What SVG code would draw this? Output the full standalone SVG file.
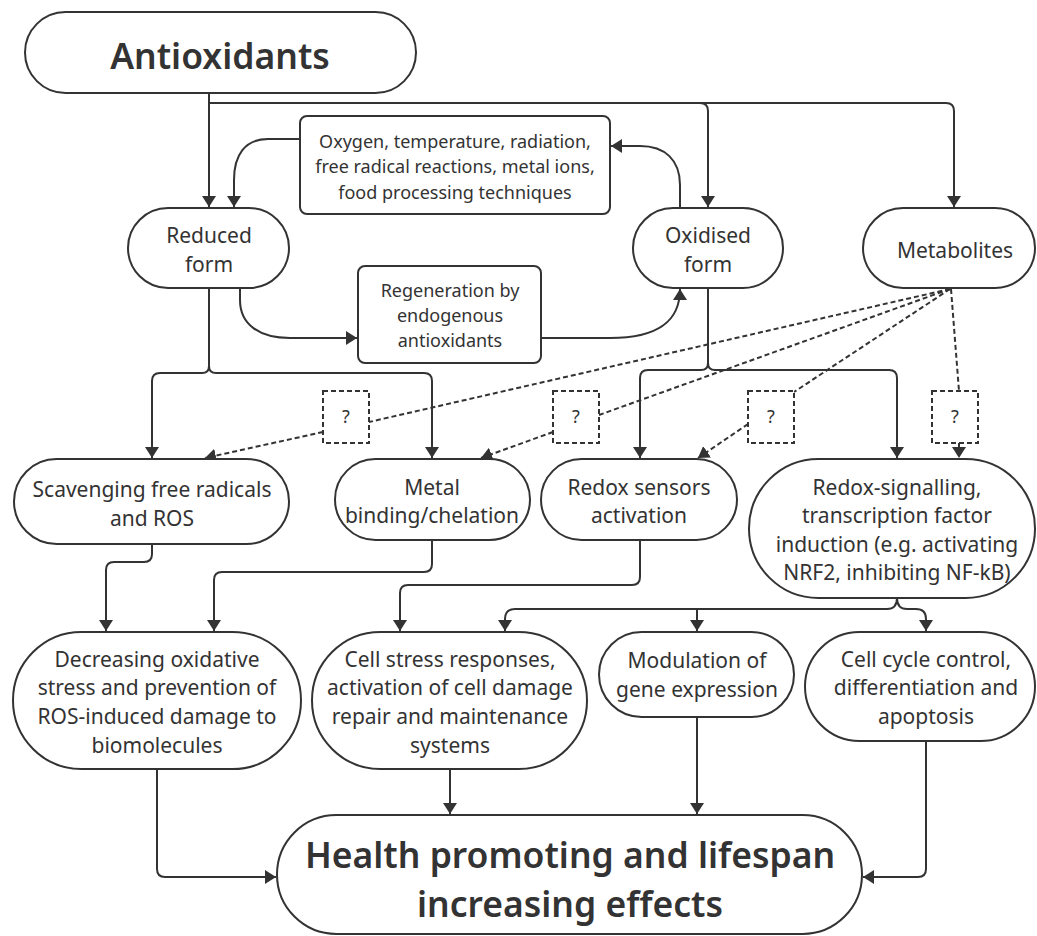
<svg xmlns="http://www.w3.org/2000/svg" width="1037" height="936" viewBox="0 0 1037 936">
<style>
.n{fill:#fff;stroke:#333;stroke-width:2}
.t{font-family:"Noto Sans","Open Sans",sans-serif;fill:#333;text-anchor:middle;font-size:21px}
.s{font-size:18px}
.b{font-size:35.5px;font-weight:600}
.c{fill:none;stroke:#333;stroke-width:2}
.d{fill:none;stroke:#333;stroke-width:2;stroke-dasharray:5 3}
.a{marker-end:url(#ah)}
</style>
<defs>
<marker id="ah" viewBox="0 0 11 14" refX="11" refY="7" markerWidth="11" markerHeight="14" markerUnits="userSpaceOnUse" orient="auto">
<path d="M0,0 L11,7 L0,14 z" fill="#333"/>
</marker>
</defs>
<rect width="1037" height="936" fill="#fff"/>
<g id="connectors">
<path class="c a" d="M209,93 V207"/>
<path class="c a" d="M209,103 H946 Q954,103 954,111 V207"/>
<path class="c a" d="M700,103 Q708,103 708,111 V207"/>
<path class="c a" d="M300,139 H268 C245,139 234,155 234,180 V207"/>
<path class="c a" d="M680,208 V185 C680,160 665,146 640,146 H611"/>
<path class="c a" d="M240,288 V300 C240,325 260,338 290,338 H357"/>
<path class="c a" d="M541,338 H610 C660,338 680,320 680,289"/>
<path class="c a" d="M209,288 V366 Q209,373 202,373 H160 Q152,373 152,381 V458"/>
<path class="c a" d="M209,366 Q209,373 216,373 H424 Q432,373 432,381 V458"/>
<path class="c a" d="M708,288 V363 Q708,370 701,370 H648 Q640,370 640,378 V458"/>
<path class="c a" d="M708,363 Q708,370 715,370 H889 Q897,370 897,378 V458"/>
<path class="d" d="M950,289 L369,422"/>
<path class="d a" d="M323,432 L205,458"/>
<path class="d" d="M950,289 L599,415"/>
<path class="d a" d="M553,432 L481,458"/>
<path class="d" d="M950,289 L794,392"/>
<path class="d a" d="M748,424 L698,458"/>
<path class="d" d="M951,289 L959,391"/>
<path class="d a" d="M959,443 V458"/>
<path class="c a" d="M152,544 V554 Q152,562 144,562 H114 Q106,562 106,570 V631"/>
<path class="c a" d="M432,540 V564 Q432,572 424,572 H222 Q214,572 214,580 V631"/>
<path class="c a" d="M640,540 V577 Q640,585 632,585 H408 Q400,585 400,593 V631"/>
<path class="c a" d="M897,598 Q897,609 887,609 H515 Q505,609 505,619 V631"/>
<path class="c a" d="M697,609 V631"/>
<path class="c a" d="M897,598 Q897,609 907,609 H916 Q926,609 926,619 V631"/>
<path class="c a" d="M157,769 V869 Q157,877 165,877 H276"/>
<path class="c a" d="M450,769 V814"/>
<path class="c a" d="M697,717 V814"/>
<path class="c a" d="M926,741 V869 Q926,877 918,877 H863"/>
</g>
<g id="antioxidants">
<rect class="n" x="25" y="12" width="391" height="81" rx="40.5"/>
<text class="t b" x="220" y="69">Antioxidants</text>
</g>
<g id="reduced">
<rect class="n" x="128" y="208" width="161" height="80" rx="40"/>
<text class="t" x="209" y="243">Reduced</text>
<text class="t" x="209" y="272">form</text>
</g>
<g id="factors">
<rect class="n" x="300" y="116" width="310" height="98" rx="7"/>
<text class="t s" x="455" y="148">Oxygen, temperature, radiation,</text>
<text class="t s" x="455" y="173">free radical reactions, metal ions,</text>
<text class="t s" x="455" y="199">food processing techniques</text>
</g>
<g id="oxidised">
<rect class="n" x="633" y="208" width="150" height="80" rx="40"/>
<text class="t" x="708" y="243">Oxidised</text>
<text class="t" x="708" y="272">form</text>
</g>
<g id="metabolites">
<rect class="n" x="863" y="208" width="172" height="80" rx="40"/>
<text class="t" x="955" y="258">Metabolites</text>
</g>
<g id="regeneration">
<rect class="n" x="358" y="266" width="183" height="97" rx="7"/>
<text class="t s" x="450" y="297">Regeneration by</text>
<text class="t s" x="450" y="322">endogenous</text>
<text class="t s" x="450" y="347">antioxidants</text>
</g>
<g id="q1">
<rect class="n" x="323" y="391" width="46" height="52" style="stroke-dasharray:5 3"/>
<text class="t s" x="346" y="423">?</text>
</g>
<g id="q2">
<rect class="n" x="553" y="391" width="46" height="52" style="stroke-dasharray:5 3"/>
<text class="t s" x="576" y="423">?</text>
</g>
<g id="q3">
<rect class="n" x="748" y="391" width="46" height="52" style="stroke-dasharray:5 3"/>
<text class="t s" x="771" y="423">?</text>
</g>
<g id="q4">
<rect class="n" x="932" y="391" width="46" height="52" style="stroke-dasharray:5 3"/>
<text class="t s" x="955" y="423">?</text>
</g>
<g id="scavenging">
<rect class="n" x="14" y="459" width="275" height="85" rx="42.5"/>
<text class="t" x="152" y="497">Scavenging free radicals</text>
<text class="t" x="152" y="526">and ROS</text>
</g>
<g id="metal">
<rect class="n" x="335" y="459" width="195" height="81" rx="40.5"/>
<text class="t" x="432" y="495">Metal</text>
<text class="t" x="432" y="523">binding/chelation</text>
</g>
<g id="redox-sensors">
<rect class="n" x="541" y="459" width="196" height="81" rx="40.5"/>
<text class="t" x="639" y="495">Redox sensors</text>
<text class="t" x="639" y="523">activation</text>
</g>
<g id="redox-signalling">
<rect class="n" x="749" y="459" width="286" height="139" rx="69.5"/>
<text class="t" x="897" y="495">Redox-signalling,</text>
<text class="t" x="897" y="523">transcription factor</text>
<text class="t" x="897" y="552">induction (e.g. activating</text>
<text class="t" x="897" y="580">NRF2, inhibiting NF-kB)</text>
</g>
<g id="decreasing">
<rect class="n" x="13" y="632" width="288" height="137" rx="68.5"/>
<text class="t" x="157" y="667">Decreasing oxidative</text>
<text class="t" x="157" y="695">stress and prevention of</text>
<text class="t" x="157" y="724">ROS-induced damage to</text>
<text class="t" x="157" y="753">biomolecules</text>
</g>
<g id="cell-stress">
<rect class="n" x="312" y="632" width="275" height="137" rx="68.5"/>
<text class="t" x="450" y="667">Cell stress responses,</text>
<text class="t" x="450" y="695">activation of cell damage</text>
<text class="t" x="450" y="724">repair and maintenance</text>
<text class="t" x="450" y="753">systems</text>
</g>
<g id="modulation">
<rect class="n" x="599" y="632" width="195" height="85" rx="42.5"/>
<text class="t" x="697" y="668">Modulation of</text>
<text class="t" x="697" y="697">gene expression</text>
</g>
<g id="cell-cycle">
<rect class="n" x="805" y="632" width="230" height="109" rx="54.5"/>
<text class="t" x="926" y="667">Cell cycle control,</text>
<text class="t" x="926" y="695">differentiation and</text>
<text class="t" x="926" y="724">apoptosis</text>
</g>
<g id="health">
<rect class="n" x="277" y="815" width="585" height="119" rx="59.5"/>
<text class="t b" x="570" y="868">Health promoting and lifespan</text>
<text class="t b" x="570" y="917">increasing effects</text>
</g>
</svg>
